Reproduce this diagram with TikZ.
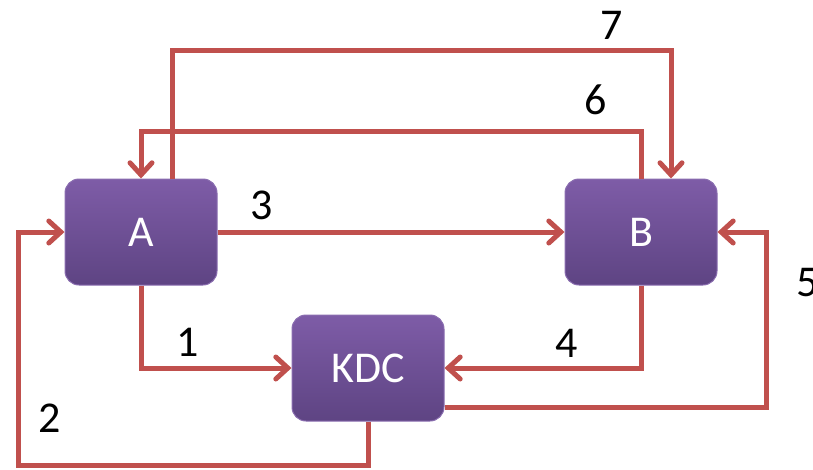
\documentclass[tikz,border=0pt]{standalone}
\usepackage{fontspec}
\setmainfont{Carlito}
\usetikzlibrary{arrows.meta}
\definecolor{conn}{HTML}{C0504D}
\definecolor{boxtop}{HTML}{7E5CA7}
\definecolor{boxbot}{HTML}{5E4483}
\definecolor{boxedge}{HTML}{8A6DB0}
\tikzset{
  box/.style={rounded corners=14pt, top color=boxtop, bottom color=boxbot, draw=boxedge, line width=1pt,
    minimum width=152pt, minimum height=106pt, text=white, font=\fontsize{44}{48}\selectfont, inner sep=0pt},
  conn/.style={draw=conn, line width=5pt, line join=miter},
  arr/.style={conn, -{Straight Barb[length=12pt,width=22pt,line width=5pt,line cap=round]}},
  lbl/.style={font=\fontsize{44}{48}\selectfont, text=black, inner sep=0pt}
}
\begin{document}
\begin{tikzpicture}[x=1pt,y=-1pt]
\useasboundingbox (0,0) rectangle (813,469);
\clip (0,0) rectangle (813,469);
\node[box] (a) at (141,232) {A};
\node[box] (b) at (641,232) {B};
\node[box] (kdc) at (368,368) {KDC};
\coordinate (c2) at (18,465);
\coordinate (c5) at (766,407);
\coordinate (c6) at (400,131);
\coordinate (c7a) at (172,50);
\coordinate (c7b) at (671,50);
% 1
\draw[arr] (a.south) |- (kdc.west);
% 2
\draw[arr] (kdc.south) |- (c2) |- (a.west);
% 3
\draw[arr] (a.east) -- (b.west);
% 4
\draw[arr] (b.south) |- (kdc.east);
% 5
\draw[arr] (kdc.east |- c5) -- (c5) |- (b.east);
% 6
\draw[arr] (b.north) |- (c6) -| (a.north);
% 7
\draw[arr] (c7a |- a.north) -- (c7a) -- (c7b) -- (c7b |- b.north);
\node[lbl] (l1) at (188,342) {1};
\node[lbl] (l2) at (50,418) {2};
\node[lbl] (l3) at (262,205) {3};
\node[lbl] (l4) at (567,343) {4};
\node[lbl] (l5) at (808,283) {5};
\node[lbl] (l6) at (596,100) {6};
\node[lbl] (l7) at (612,25) {7};
\end{tikzpicture}
\end{document}
